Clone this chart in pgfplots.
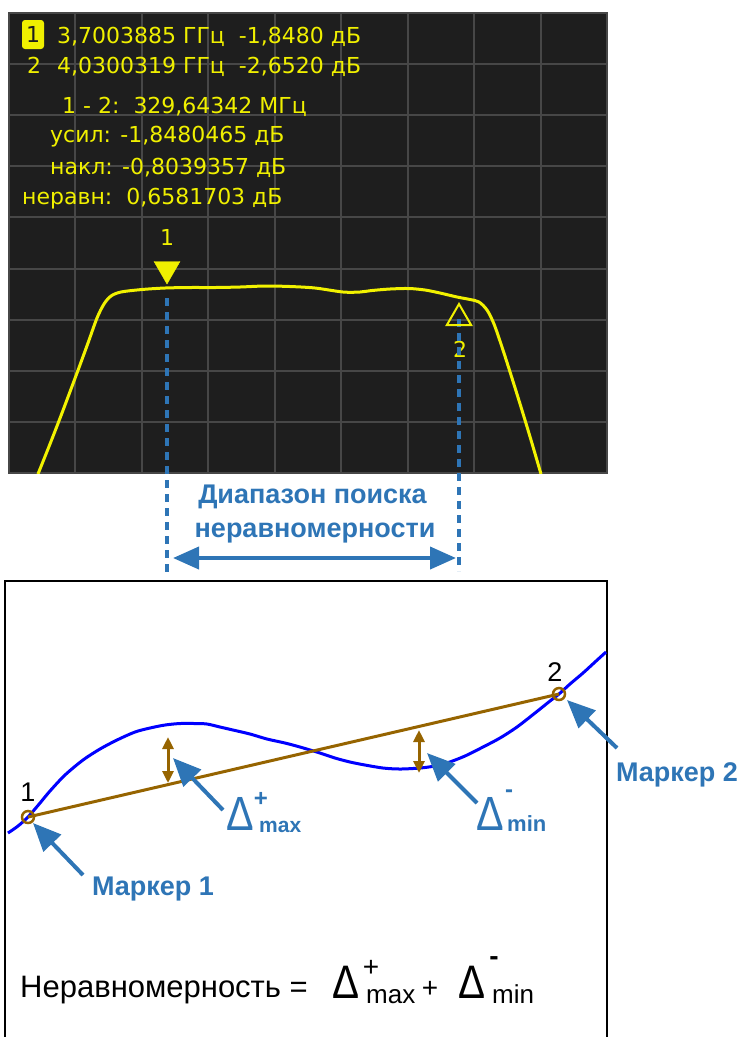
\documentclass[border=0pt]{standalone}
\usepackage{pgfplots}
\pgfplotsset{compat=1.18}
\usepackage{fontspec}
\setmainfont{Liberation Sans}
\newfontfamily\dejavu{DejaVu Sans}
\usetikzlibrary{arrows.meta}
\definecolor{panelbg}{HTML}{1E1E1E}
\definecolor{gridgray}{HTML}{474747}
\definecolor{trace}{HTML}{F2F200}
\definecolor{mtext}{HTML}{F0F000}
\definecolor{lblue}{HTML}{2E75B6}
\definecolor{dbrown}{HTML}{966400}
\definecolor{cblue}{HTML}{0000FF}
\newcommand{\fs}[1]{\fontsize{#1pt}{#1pt}\selectfont}
\newcommand{\D}{\scalebox{0.86}[1]{Δ}}
\begin{document}
\begin{tikzpicture}
\useasboundingbox (0,0) rectangle (744pt,-1037pt);
% ---------------- top analyzer panel ----------------
\begin{axis}[at={(308pt,-243pt)}, anchor=center, scale only axis,
  width=598pt, height=460pt, xmin=9, xmax=607, ymin=13, ymax=473, y dir=reverse,
  xtick={9,75.44,141.89,208.33,274.78,341.22,407.67,474.11,540.56,607},
  ytick={13,64.1,115.2,166.3,217.4,268.6,319.7,370.8,421.9,473},
  xticklabels={}, yticklabels={}, major tick length=0pt,
  grid=major, grid style={gridgray, line width=2pt},
  axis line style={gridgray, line width=2pt},
  axis background/.style={fill=panelbg}]
\addplot[trace, line width=3pt, smooth, tension=0.5] coordinates {
(38,474) (50,444) (62,413) (77,373) (88,343) (97,318) (104,304) (111,296)
(121,292) (142,289.5) (165,288) (190,287.5) (215,287.5) (240,287) (265,286)
(290,286.5) (315,288) (343,292) (360,292) (372,290.5) (390,289) (409,288.5)
(425,290) (440,293) (457,297) (470,299.5) (479,302) (487,310) (494,324)
(502,347) (511,375) (521,407) (531,440) (541,474)};
\end{axis}
% ---------------- overlay in pixel units ----------------
\begin{axis}[at={(372pt,-518.5pt)}, anchor=center, scale only axis,
  width=744pt, height=1037pt, xmin=0, xmax=744, ymin=0, ymax=1037, y dir=reverse,
  hide axis, clip=false]
% marker readout text
\node[fill=mtext, rounded corners=3pt, minimum width=22pt, minimum height=29pt, inner sep=0pt,
  text=panelbg, font=\dejavu\fs{22}] at (axis cs:33,34.5) {1};
\node[anchor=base west, text=mtext, font=\dejavu\fs{22}, inner sep=0pt] at (axis cs:57,43) {3,7003885 ГГц\ \ -1,8480 дБ};
\node[anchor=base west, text=mtext, font=\dejavu\fs{22}, inner sep=0pt] at (axis cs:27,73) {2};
\node[anchor=base west, text=mtext, font=\dejavu\fs{22}, inner sep=0pt] at (axis cs:57,73) {4,0300319 ГГц\ \ -2,6520 дБ};
\node[anchor=base west, text=mtext, font=\dejavu\fs{22}, inner sep=0pt] at (axis cs:62,113) {1 - 2:\ \ 329,64342 МГц};
\node[anchor=base west, text=mtext, font=\dejavu\fs{22}, inner sep=0pt] at (axis cs:50,142) {усил: -1,8480465 дБ};
\node[anchor=base west, text=mtext, font=\dejavu\fs{22}, inner sep=0pt] at (axis cs:50,174) {накл: -0,8039357 дБ};
\node[anchor=base west, text=mtext, font=\dejavu\fs{22}, inner sep=0pt] at (axis cs:22,204) {неравн:\ \ 0,6581703 дБ};
% markers on trace
\addplot[only marks, mark=triangle*, mark size=15pt, mtext, mark options={rotate=180, fill=mtext, draw=mtext}] coordinates {(167,269)};
\addplot[only marks, mark=triangle, mark size=14pt, mtext, mark options={line width=2pt, draw=mtext}] coordinates {(459,318)};
\node[text=mtext, font=\dejavu\fs{22}] at (axis cs:167,237) {1};
\node[text=mtext, font=\dejavu\fs{22}] at (axis cs:460,349) {2};
% dotted range lines
\addplot[lblue, line width=4pt, dash pattern=on 8pt off 6pt] coordinates {(167,298) (167,573)};
\addplot[lblue, line width=4pt, dash pattern=on 8pt off 6pt] coordinates {(459,319) (459,571)};
\node[text=lblue, font=\bfseries\fs{27}, anchor=base] at (axis cs:312.5,503) {Диапазон поиска};
\node[text=lblue, font=\bfseries\fs{27}, anchor=base] at (axis cs:315,537) {неравномерности};
\addplot[lblue, line width=4pt, {Triangle[length=26pt,width=22pt]}-{Triangle[length=26pt,width=22pt]}] coordinates {(173,558) (456,558)};
% ---------------- bottom diagram ----------------
\addplot[black, line width=2pt] coordinates {(5,1040) (5,581) (607,581) (607,1040)};
\addplot[cblue, line width=3pt, smooth, tension=0.5] coordinates {
(8,833) (18,826) (28,817) (40,803) (50,791) (65,775) (83,760) (100,749) (117,740)
(135,732) (150,728) (165,725) (180,723.5) (195,723.5) (207,724) (220,727) (233,730)
(250,734) (267,739) (285,743) (300,747) (320,753) (335,758) (350,762) (365,765)
(383,768) (400,769) (420,768) (435,766) (447,763) (465,756) (483,747) (500,738)
(517,727) (535,713) (550,701) (559,694) (570,684) (583,673) (595,662) (606,652)};
\addplot[dbrown, line width=3pt] coordinates {(28,817) (559,694)};
\addplot[only marks, mark=o, mark size=6pt, dbrown, mark options={line width=2.5pt, fill=white}] coordinates {(28,817) (559,694)};
\node[font=\fs{27}] at (axis cs:28,792) {1};
\node[font=\fs{27}] at (axis cs:555,672) {2};
% brown deviation arrows
\addplot[dbrown, line width=3pt, {Triangle[length=12pt,width=11pt]}-{Triangle[length=12pt,width=11pt]}] coordinates {(168,737) (168,783)};
\addplot[dbrown, line width=3pt, {Triangle[length=12pt,width=11pt]}-{Triangle[length=12pt,width=11pt]}] coordinates {(419,730) (419,773)};
% blue pointer arrows
\addplot[lblue, line width=4pt, -{Triangle[length=28pt,width=24pt]}] coordinates {(223,810) (173,758)};
\addplot[lblue, line width=4pt, -{Triangle[length=28pt,width=24pt]}] coordinates {(83,875) (33,823)};
\addplot[lblue, line width=4pt, -{Triangle[length=28pt,width=24pt]}] coordinates {(477,803) (427,753)};
\addplot[lblue, line width=4pt, -{Triangle[length=28pt,width=24pt]}] coordinates {(617,748) (567,700)};
% labels
\node[text=lblue, font=\fs{48}, anchor=base west, inner sep=0pt] at (axis cs:226,830) {\D};
\node[text=lblue, font=\bfseries\fs{24}, inner sep=0pt] at (axis cs:261,799) {+};
\node[text=lblue, font=\bfseries\fs{21}, anchor=base west, inner sep=0pt] at (axis cs:259,832) {max};
\node[text=lblue, font=\fs{48}, anchor=base west, inner sep=0pt] at (axis cs:476,830) {\D};
\node[text=lblue, font=\bfseries\fs{24}, inner sep=0pt] at (axis cs:509,794) {-};
\node[text=lblue, font=\bfseries\fs{22}, anchor=base west, inner sep=0pt] at (axis cs:507,831) {min};
\node[text=lblue, font=\bfseries\fs{27}] at (axis cs:153,889) {Маркер 1};
\node[text=lblue, font=\bfseries\fs{27}] at (axis cs:677,775) {Маркер 2};
% formula
\node[font=\fs{31}, anchor=base west, inner sep=0pt] at (axis cs:20,997) {Неравномерность =};
\node[font=\fs{47}, anchor=base west, inner sep=0pt] at (axis cs:332,998) {\D};
\node[font=\fs{28}, inner sep=0pt] at (axis cs:371,968) {+};
\node[font=\fs{26}, anchor=base west, inner sep=0pt] at (axis cs:366,1003) {max};
\node[font=\fs{28}, inner sep=0pt] at (axis cs:430,989) {+};
\node[font=\fs{47}, anchor=base west, inner sep=0pt] at (axis cs:458,998) {\D};
\node[font=\bfseries\fs{28}, inner sep=0pt] at (axis cs:494,961) {-};
\node[font=\fs{26}, anchor=base west, inner sep=0pt] at (axis cs:492,1003) {min};
\end{axis}
\end{tikzpicture}
\end{document}
